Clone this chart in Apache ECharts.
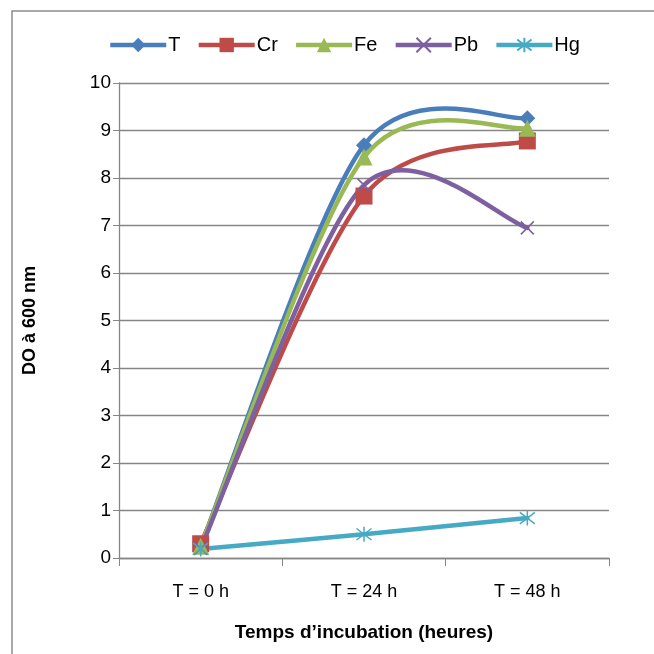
<!DOCTYPE html>
<html><head><meta charset="utf-8">
<script src="https://cdn.jsdelivr.net/npm/echarts@6/dist/echarts.min.js"></script>
<style>html,body{margin:0;padding:0;background:#fff}#c{width:654px;height:654px}</style>
</head><body><div id="c"></div>
<script>
var categories = ['T = 0 h', 'T = 24 h', 'T = 48 h'];
var seriesNames = ['T', 'Cr', 'Fe', 'Pb', 'Hg'];
var valT  = [0.25, 8.69, 9.26];
var valCr = [0.30, 7.62, 8.78];
var valFe = [0.25, 8.44, 9.05];
var valPb = [0.20, 7.85, 6.95];
var valHg = [0.19, 0.50, 0.84];
var yTicks = [0,1,2,3,4,5,6,7,8,9,10];

var font = 'Liberation Sans, Arial, sans-serif';
var colors = {T: '#4A7EBB', Cr: '#BE4B48', Fe: '#98B954', Pb: '#7D60A0', Hg: '#46AAC5'};
var chart = echarts.init(document.getElementById('c'));

// Excel-like smoothed curve (Catmull-Rom -> cubic Bezier) drawn in pixel space from api.coord
function curveSeries(vals, color) {
  return {
    type: 'custom', silent: true, z: 2,
    data: vals.map(function(v, i){ return [i, v]; }),
    encode: {x: 0, y: 1},
    renderItem: function(params, api) {
      if (params.dataIndex !== 0) return null;
      var p = vals.map(function(v, i){ return api.coord([i, v]); });
      var n = p.length, k = 6.6;
      var d = 'M' + p[0][0] + ',' + p[0][1];
      for (var i = 0; i < n - 1; i++) {
        var p0 = p[Math.max(i - 1, 0)], p1 = p[i], p2 = p[i + 1], p3 = p[Math.min(i + 2, n - 1)];
        var c1x = p1[0] + (p2[0] - p0[0]) / k, c1y = p1[1] + (p2[1] - p0[1]) / k;
        var c2x = p2[0] - (p3[0] - p1[0]) / k, c2y = p2[1] - (p3[1] - p1[1]) / k;
        d += ' C' + c1x + ',' + c1y + ' ' + c2x + ',' + c2y + ' ' + p2[0] + ',' + p2[1];
      }
      return {type: 'path', shape: {pathData: d},
        style: {fill: 'none', stroke: color, lineWidth: 4.5, lineCap: 'round', lineJoin: 'round'}};
    }
  };
}
function mk(name, data, symbol, size, extra) {
  var color = colors[name];
  return {
    name: name, type: 'line', data: data, z: 3,
    symbol: symbol, symbolSize: size,
    lineStyle: {color: color, width: 4.5, opacity: 0},
    itemStyle: Object.assign({color: color}, extra || {}),
    emphasis: {disabled: true}
  };
}
var xPath = 'path://M0,0L10,10M10,0L0,10';
var starPath = 'path://M0,0L10,10M10,0L0,10M5,-1.5L5,11.5';
var series = [];
series.push(curveSeries(valT, colors.T));
series.push(mk('T', valT, 'diamond', 16));
series.push(curveSeries(valCr, colors.Cr));
series.push(mk('Cr', valCr, 'rect', 17));
series.push(curveSeries(valFe, colors.Fe));
series.push(mk('Fe', valFe, 'triangle', 17));
series.push(curveSeries(valPb, colors.Pb));
series.push(mk('Pb', valPb, xPath, 13, {color: 'none', borderColor: colors.Pb, borderWidth: 1.5}));
series.push(curveSeries(valHg, colors.Hg));
series.push(mk('Hg', valHg, starPath, 15, {color: 'none', borderColor: colors.Hg, borderWidth: 1.5}));

chart.setOption({
  animation: false,
  graphic: [{type: 'rect', shape: {x: 12, y: 11, width: 700, height: 700}, style: {fill: 'none', stroke: '#8c8c8c', lineWidth: 1.5}}],
  legend: {
    top: 30, left: 103, itemWidth: 56, itemHeight: 18, itemGap: 16,
    textStyle: {fontFamily: font, fontSize: 20, color: '#000', padding: [0,0,0,-3]},
    data: seriesNames.map(function(n){ return {name: n, lineStyle: {opacity: 1, width: 4.5, color: colors[n]}}; })
  },
  grid: {left: 119, right: 45, top: 83, bottom: 96},
  xAxis: {
    type: 'category', data: categories, boundaryGap: true,
    axisLine: {lineStyle: {color: '#868686', width: 1.3}},
    axisTick: {show: true, length: 8, lineStyle: {color: '#868686'}},
    axisLabel: {fontFamily: font, fontSize: 18, color: '#000', margin: 25},
    name: 'Temps d\u2019incubation (heures)', nameLocation: 'middle', nameGap: 65,
    nameTextStyle: {fontFamily: font, fontSize: 19, fontWeight: 'bold', color: '#000'}
  },
  yAxis: {
    type: 'value', min: 0, max: 10, interval: 1,
    axisLine: {show: true, lineStyle: {color: '#868686', width: 1.3}},
    axisTick: {show: true, length: 6, lineStyle: {color: '#868686'}},
    splitLine: {lineStyle: {color: '#868686', width: 1.3}},
    axisLabel: {fontFamily: font, fontSize: 19, color: '#000', margin: 8,
      formatter: function(v){ return yTicks.indexOf(v) >= 0 ? String(v) : ''; }},
    name: 'DO \u00e0 600 nm', nameLocation: 'middle', nameGap: 80, nameRotate: 90,
    nameTextStyle: {fontFamily: font, fontSize: 18, fontWeight: 'bold', color: '#000'}
  },
  series: series
});
</script></body></html>
